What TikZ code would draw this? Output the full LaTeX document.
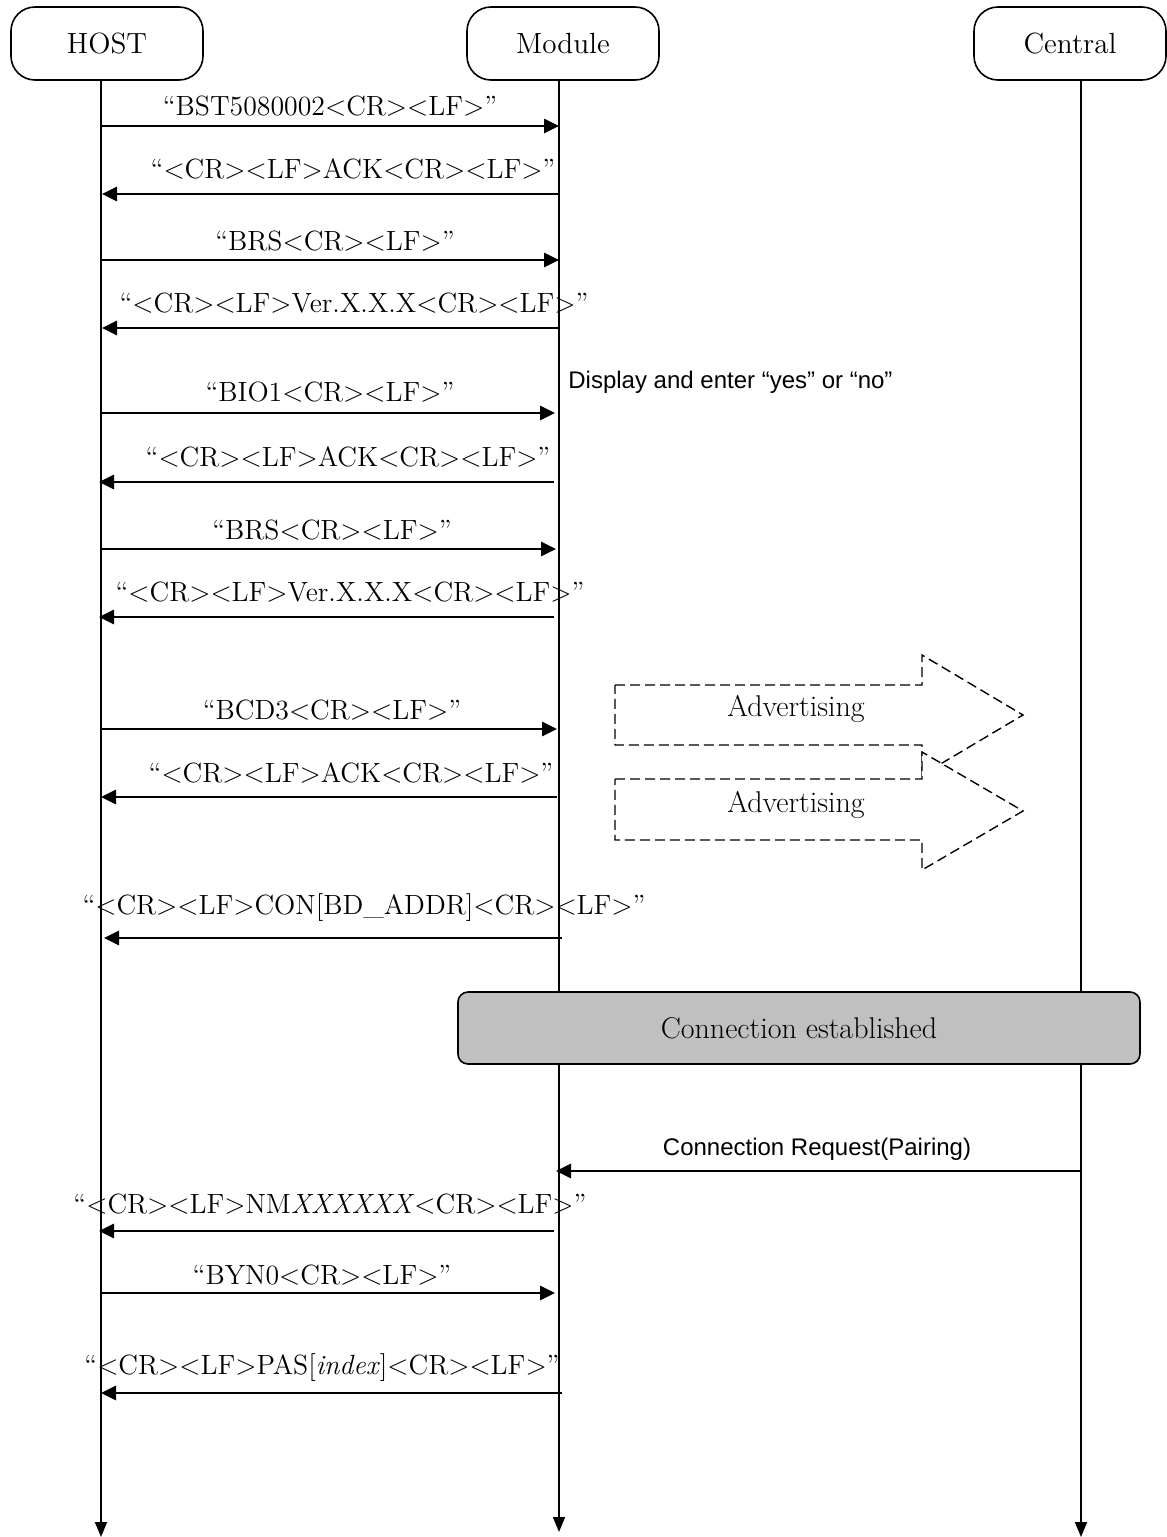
\documentclass[tikz,border=0pt]{standalone}
\usepackage{fontspec}
\newfontfamily\arialfont{Liberation Sans}
\usepackage{xcolor}
\usepackage{tikz}
\usetikzlibrary{arrows.meta,positioning}
\definecolor{grisbox}{HTML}{C0C0C0}

\begin{document}
\begin{tikzpicture}[x=0.5pt,y=-0.5pt,
  actor/.style={draw,line width=0.8pt,rounded corners=12pt,minimum width=96pt,minimum height=36.5pt,inner sep=0pt,font=\fontsize{14.6}{17}\selectfont},
  life/.style={line width=0.9pt,-{Triangle[length=7.5pt,width=6pt]}},
  msg/.style={line width=1.4pt,-{Triangle[length=7.5pt,width=7pt]}},
  msgtxt/.style={anchor=base,inner sep=0pt,font=\fontsize{13.9}{16}\selectfont},
  sanstxt/.style={anchor=base,inner sep=0pt,font=\arialfont\fontsize{12}{14}\selectfont},
  advtxt/.style={anchor=base,inner sep=0pt,font=\fontsize{15}{17}\selectfont},
  adv/.style={draw,line width=0.7pt,dash pattern=on 5pt off 2.5pt,fill=white},
  estab/.style={draw,line width=0.8pt,fill=grisbox,rounded corners=5pt,minimum width=341pt,minimum height=36pt,font=\fontsize{15}{17}\selectfont}]
  \useasboundingbox (0,0) rectangle (1167,1537);

  % actors and lifelines
  \foreach \n/\x/\txt in {host/107/HOST,module/563/Module,central/1070/Central}{
    \node[actor] (\n) at (\x,43.5) {\txt};
  }
  \foreach \n/\x/\yb in {host/101/1537,module/559/1532,central/1081/1537}{
    \coordinate (\n-end) at (\x,\yb);
    \draw[life] (\n.south -| \n-end) -- (\n-end);
  }

  % HOST <-> Module messages
  \foreach \i/\y/\xa/\xb/\cx/\by/\txt in {
      1/126/101/559/330/115/{“BST5080002<CR><LF>”},
      2/194/559/102/353/178/{“<CR><LF>ACK<CR><LF>”},
      3/260/101/559/335/250/{“BRS<CR><LF>”},
      4/328/559/102/354/312/{“<CR><LF>Ver.X.X.X<CR><LF>”},
      5/413/101/555/330/401/{“BIO1<CR><LF>”},
      6/482/554/99/348/466/{“<CR><LF>ACK<CR><LF>”},
      7/549/101/556/332/539/{“BRS<CR><LF>”},
      8/617/554/99/350/601/{“<CR><LF>Ver.X.X.X<CR><LF>”},
      9/729/101/557/332/719/{“BCD3<CR><LF>”},
      10/797/557/101/351/782/{“<CR><LF>ACK<CR><LF>”},
      11/938/562/104/364/914/{“<CR><LF>CON[BD\_ADDR]<CR><LF>”},
      13/1231/554/99/330/1213/{“<CR><LF>NM\textit{XXXXXX}<CR><LF>”},
      14/1293/101/555/322/1284/{“BYN0<CR><LF>”},
      15/1393/562/101/322/1374/{“<CR><LF>PAS[\textit{index}]<CR><LF>”}}{
    \coordinate (a\i) at (\xa,\y);
    \coordinate (b\i) at (\xb,\y);
    \draw[msg] (a\i) -- (b\i);
    \node[msgtxt] (t\i) at (\cx,\by) {\txt};
  }
  \node[sanstxt,anchor=base west] (note) at (568,388) {Display and enter “yes” or “no”};

  % advertising
  \draw[adv] (615,685) -- (922,685) -- (922,655) -- (1023,715) -- (922,775) -- (922,745) -- (615,745) -- cycle;
  \draw[adv] (615,779) -- (922,779) -- (922,752) -- (1023,811) -- (922,870) -- (922,840) -- (615,840) -- cycle;
  \node[advtxt] (adv1) at (796,716) {Advertising};
  \node[advtxt] (adv2) at (796,812) {Advertising};

  % connection
  \node[estab] (conn) at (799,1028) {Connection established};
  \coordinate (c12) at (1081,1171);
  \coordinate (m12) at (556,1171);
  \draw[msg] (c12) -- (m12);
  \node[sanstxt] (t12) at (817,1155) {Connection Request(Pairing)};
\end{tikzpicture}
\end{document}
